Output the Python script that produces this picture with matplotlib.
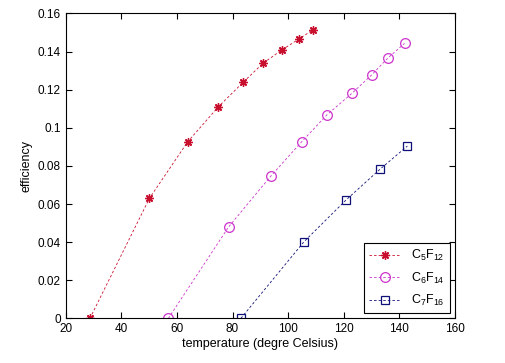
import matplotlib
matplotlib.use('Agg')
import matplotlib.pyplot as plt
from matplotlib.ticker import FuncFormatter

# data
t_c5 = [28.7, 50.1, 63.9, 74.9, 83.9, 91.1, 97.7, 103.8, 108.8]
e_c5 = [0.0, 0.063, 0.0927, 0.111, 0.124, 0.134, 0.1408, 0.1465, 0.1513]

t_c6 = [56.9, 78.6, 93.8, 104.9, 113.9, 122.9, 130.1, 135.9, 141.9]
e_c6 = [0.0, 0.048, 0.0747, 0.0927, 0.1067, 0.118, 0.1278, 0.1366, 0.1443]

t_c7 = [83.0, 105.7, 120.9, 133.1, 142.9]
e_c7 = [0.0, 0.0402, 0.0622, 0.0783, 0.0904]

labels = [r'C$_5$F$_{12}$', r'C$_6$F$_{14}$', r'C$_7$F$_{16}$']
x_ticks = [20, 40, 60, 80, 100, 120, 140, 160]
y_ticks = [0, 0.02, 0.04, 0.06, 0.08, 0.1, 0.12, 0.14, 0.16]

plt.rcParams['font.family'] = ['Liberation Sans', 'DejaVu Sans']
plt.rcParams['mathtext.default'] = 'regular'

fig = plt.figure(figsize=(5.06, 3.63), dpi=100)
ax = fig.add_axes([0.130, 0.123, 0.769, 0.840])

dash = (0, (3, 2.5))
ax.plot(t_c5, e_c5, linestyle=dash, color='#c8102e', marker=(8, 2, 0),
        markersize=6, markeredgewidth=1.0, linewidth=0.6, label=labels[0])
ax.plot(t_c6, e_c6, linestyle=dash, color='#cc33cc', marker='o',
        markersize=7, markerfacecolor='none', markeredgewidth=0.9,
        linewidth=0.6, label=labels[1])
ax.plot(t_c7, e_c7, linestyle=dash, color='#10107a', marker='s',
        markersize=6, markerfacecolor='none', markeredgewidth=0.9,
        linewidth=0.6, label=labels[2])

ax.set_xlim(20, 160)
ax.set_ylim(0, 0.16)
ax.set_xticks(x_ticks)
ax.set_yticks(y_ticks)
ax.yaxis.set_major_formatter(FuncFormatter(lambda v, p: '%g' % round(v, 4)))
ax.tick_params(direction='in', top=True, right=True, labelsize=8.5,
               length=4, width=0.8)
for s in ax.spines.values():
    s.set_linewidth(0.8)

ax.set_xlabel('temperature (degre Celsius)', fontsize=9, labelpad=2)
ax.set_ylabel('efficiency', fontsize=9, labelpad=4)

leg = ax.legend(loc='lower right', fontsize=9, fancybox=False,
                edgecolor='black', framealpha=1, handlelength=2.6,
                borderaxespad=0.4, labelspacing=0.6)
leg.get_frame().set_linewidth(0.8)

fig.savefig('out.png', dpi=100)
